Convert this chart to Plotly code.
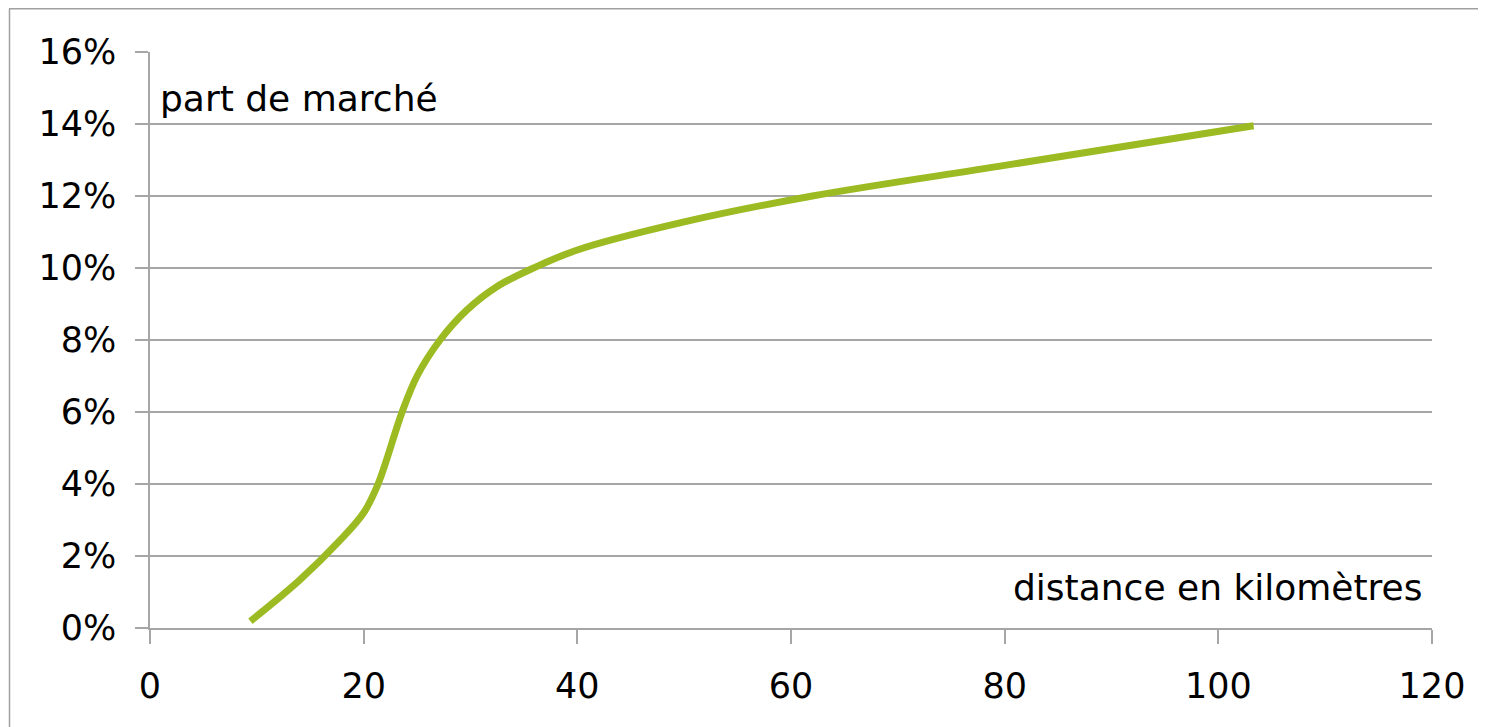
import plotly.graph_objects as go

distance_km = [9.4, 14.0, 17.8, 20.0, 21.35, 23.6, 25.0, 27.15, 29.65, 32.46, 35.9, 40.0, 50.0, 62.0, 80.0, 103.3]
part_marche = [0.0019, 0.0133, 0.0244, 0.0320, 0.0400, 0.0600, 0.0700, 0.0800, 0.0883, 0.0948, 0.1000, 0.1050, 0.1128, 0.1200, 0.1285, 0.1395]

x_ticks = [0, 20, 40, 60, 80, 100, 120]
y_ticks = [0, 0.02, 0.04, 0.06, 0.08, 0.10, 0.12, 0.14, 0.16]
y_labels = ["0%", "2%", "4%", "6%", "8%", "10%", "12%", "14%", "16%"]

OFF = 8  # page body margin
W, H = 1478, 719
# plot area in page pixels: x 150..1432, y 52..628
L = 150 - OFF
T = 52 - OFF
R = W - (1432 - OFF)
B = H - (628 - OFF)
pw, ph = W - L - R, H - T - B

def px(x_page):
    return (x_page - OFF - L) / pw

def py(y_page):
    return (H - B - (y_page - OFF)) / ph

GRID = "#a6a6a6"
FONT = "DejaVu Sans"

fig = go.Figure()
fig.add_trace(go.Scatter(
    x=distance_km, y=part_marche, mode="lines",
    line=dict(color="#9cbb22", width=7, shape="spline", smoothing=1.0),
    hoverinfo="x+y", showlegend=False,
))

fig.update_layout(
    width=W, height=H,
    margin=dict(l=L, r=R, t=T, b=B, pad=0),
    paper_bgcolor="white", plot_bgcolor="white",
    font=dict(family=FONT, color="#000000"),
    xaxis=dict(
        range=[0, 120], tickvals=x_ticks, ticktext=[str(v) for v in x_ticks],
        showgrid=False, zeroline=False, showline=True, linecolor=GRID, linewidth=1.5,
        ticks="outside", ticklen=14, tickcolor=GRID, tickwidth=1.5,
        ticklabelstandoff=12,
        tickfont=dict(family=FONT, size=35, color="#000000"),
    ),
    yaxis=dict(
        range=[0, 0.16], tickvals=y_ticks, ticktext=y_labels,
        showgrid=True, gridcolor=GRID, gridwidth=1.5, zeroline=False,
        showline=True, linecolor=GRID, linewidth=1.5,
        ticks="outside", ticklen=13, tickcolor=GRID, tickwidth=1.5,
        ticklabelstandoff=12,
        tickfont=dict(family=FONT, size=35, color="#000000"),
    ),
    annotations=[
        dict(text="part de marché", xref="paper", yref="paper",
             x=px(158), y=py(98), xanchor="left", yanchor="middle",
             showarrow=False, font=dict(family=FONT, size=36, color="#000000")),
        dict(text="distance en kilomètres", xref="paper", yref="paper",
             x=px(1425), y=py(587), xanchor="right", yanchor="middle",
             showarrow=False, font=dict(family=FONT, size=36, color="#000000")),
    ],
    shapes=[
        dict(type="line", xref="paper", yref="paper", x0=px(9), x1=px(1500), y0=py(8.8), y1=py(8.8),
             line=dict(color="#a0a0a0", width=1.5)),
        dict(type="line", xref="paper", yref="paper", x0=px(9.5), x1=px(9.5), y0=py(8.8), y1=py(740),
             line=dict(color="#a0a0a0", width=1.5)),
    ],
)

fig.write_html("out.html")
